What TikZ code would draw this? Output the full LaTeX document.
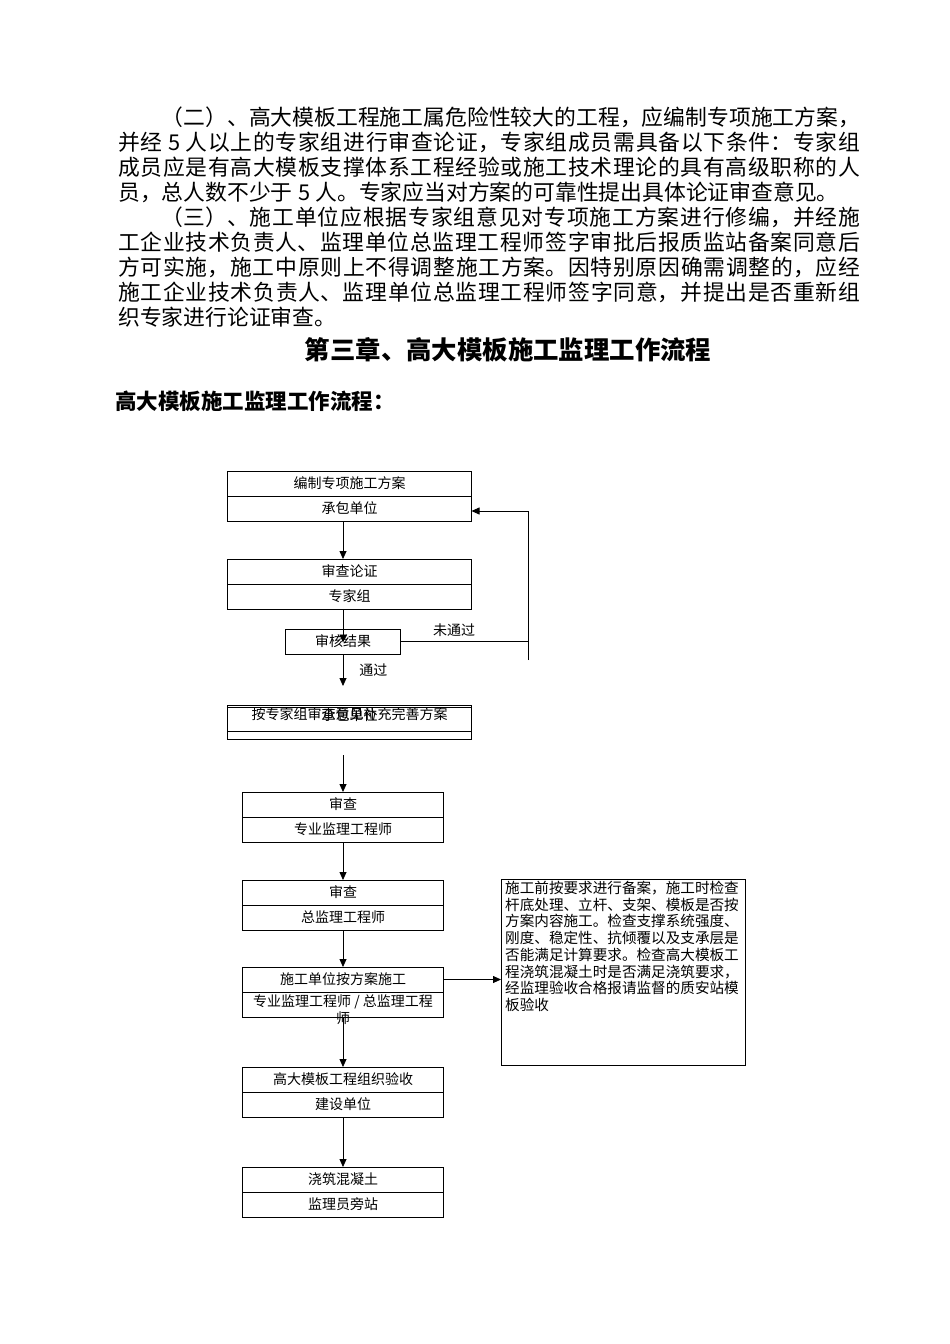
\documentclass[tikz,border=0pt]{standalone}
\usepackage{fontspec}
\setmainfont{Noto Sans CJK SC}
\XeTeXlinebreaklocale "zh"
\XeTeXlinebreakskip=0pt plus 2pt
\usetikzlibrary{arrows.meta, positioning}

\begin{document}
\begin{tikzpicture}[
    x=1pt, y=-1pt,
    cell/.style={rectangle, draw=black, line width=0.8pt, outer sep=0pt, minimum width=244pt, minimum height=25pt, inner sep=0pt, font=\fontsize{14pt}{16pt}\selectfont},
    narrowcell/.style={cell, minimum width=201pt},
    flowlabel/.style={inner sep=0pt, font=\fontsize{14pt}{17pt}\selectfont},
    plain/.style={draw=black, line width=0.8pt},
    line/.style={plain, -{Triangle[length=8pt, width=7pt]}}
]
    \useasboundingbox[fill=white] (0,0) rectangle (950,1344);

    % Text above the chart
    \node[anchor=north west, inner sep=0pt, text width=742pt, align=justify, font=\fontsize{21.8pt}{25pt}\selectfont] (intro) at (118,107)
        {\hspace*{2em}（二）、高大模板工程施工属危险性较大的工程，应编制专项施工方案，\linebreak
         并经\hspace{0.25em}5\hspace{0.25em}人以上的专家组进行审查论证，专家组成员需具备以下条件：专家组\linebreak
         成员应是有高大模板支撑体系工程经验或施工技术理论的具有高级职称的人\linebreak
         员，总人数不少于\hspace{0.25em}5\hspace{0.25em}人。专家应当对方案的可靠性提出具体论证审查意见。\par
         \hspace*{2em}（三）、施工单位应根据专家组意见对专项施工方案进行修编，并经施\linebreak
         工企业技术负责人、监理单位总监理工程师签字审批后报质监站备案同意后\linebreak
         方可实施，施工中原则上不得调整施工方案。因特别原因确需调整的，应经\linebreak
         施工企业技术负责人、监理单位总监理工程师签字同意，并提出是否重新组\linebreak
         织专家进行论证审查。};
    \node[font=\fontsize{25.4pt}{28pt}\selectfont\bfseries] (chapter) at (508,350) {第三章、高大模板施工监理工作流程};
    \node[anchor=west, inner sep=0pt, font=\fontsize{21.5pt}{24pt}\selectfont\bfseries] (flowtitle) at (115,401) {高大模板施工监理工作流程：};

    % Chart boxes
    \node[cell] (plan) at (349.5,483.5) {编制专项施工方案};
    \node[cell, below=0pt of plan] (planunit) {承包单位};
    \node[cell, below=38pt of planunit] (review) {审查论证};
    \node[cell, below=0pt of review] (reviewunit) {专家组};
    \node[cell, minimum width=115pt, below=20pt of reviewunit, xshift=-6.5pt] (result) {审核结果};
    \node[cell, minimum height=2pt, below=51pt of result, xshift=6.5pt] (reviseedge) {};
    \node[cell, minimum height=24pt, below=0pt of reviseedge] (revise) {};
    \node[cell, minimum height=8pt, below=0pt of revise] (reviseunit) {};
    \node[flowlabel] (revisetext) at ([yshift=5pt]revise.center) {按专家组审查意见补充完善方案};
    \node[flowlabel] (reviseunittext) at ([yshift=4pt]revise.center) {承包单位};
    \node[narrowcell, below=53pt of reviseunit, xshift=-6.5pt] (check) {审查};
    \node[narrowcell, below=0pt of check] (checkunit) {专业监理工程师};
    \node[narrowcell, below=38pt of checkunit] (approve) {审查};
    \node[narrowcell, below=0pt of approve] (approveunit) {总监理工程师};
    \node[narrowcell, below=37pt of approveunit] (build) {施工单位按方案施工};
    \node[narrowcell, below=0pt of build] (buildunit) {};
    \node[flowlabel, anchor=north, align=center] (buildunittext) at ([yshift=-2pt]buildunit.north) {专业监理工程师 / 总监理工程\\师};
    \node[narrowcell, below=50pt of buildunit] (accept) {高大模板工程组织验收};
    \node[narrowcell, below=0pt of accept] (acceptunit) {建设单位};
    \node[narrowcell, below=50pt of acceptunit] (pour) {浇筑混凝土};
    \node[narrowcell, below=0pt of pour] (pourunit) {监理员旁站};
    \node[plain, rectangle, minimum width=244pt, minimum height=186pt, inner sep=0pt, outer sep=0pt, anchor=north west] (remark) at (501,879) {};
    \node[anchor=north west, inner sep=0pt, align=left, font=\fontsize{14.6pt}{16.7pt}\selectfont] (remarktext) at ([xshift=4pt, yshift=-2pt]remark.north west)
        {施工前按要求进行备案，施工时检查\\杆底处理、立杆、支架、模板是否按\\方案内容施工。检查支撑系统强度、\\刚度、稳定性、抗倾覆以及支承层是\\否能满足计算要求。检查高大模板工\\程浇筑混凝土时是否满足浇筑要求，\\经监理验收合格报请监督的质安站模\\板验收};

    \coordinate (retry) at (528,511);
    \coordinate (retrytail) at (528,660);
    \coordinate (revisegap) at (343,755);

    % Connectors
    \draw[line] ([xshift=-6.5pt]planunit.south) -- ([xshift=-6.5pt]review.north);
    \draw[line] ([xshift=-6.5pt]reviewunit.south) -- ([yshift=-1pt]result.center);
    \draw[line] (result.south) -- node[flowlabel, right=16pt] {通过} ([yshift=19pt]reviseedge.north -| result.south);
    \draw[plain] (result.east) -- node[flowlabel, pos=0.42, above=4pt] {未通过} (result.east -| retrytail);
    \draw[line] (retrytail) -- (retry) -- (retry -| planunit.east);
    \draw[line] (revisegap) -- (check.north);
    \draw[line] (checkunit.south) -- (approve.north);
    \draw[line] (approveunit.south) -- (build.north);
    \draw[line] (build.east) -- (build.east -| remark.west);
    \draw[line] (buildunit.south) -- (accept.north);
    \draw[line] (acceptunit.south) -- (pour.north);
\end{tikzpicture}
\end{document}
